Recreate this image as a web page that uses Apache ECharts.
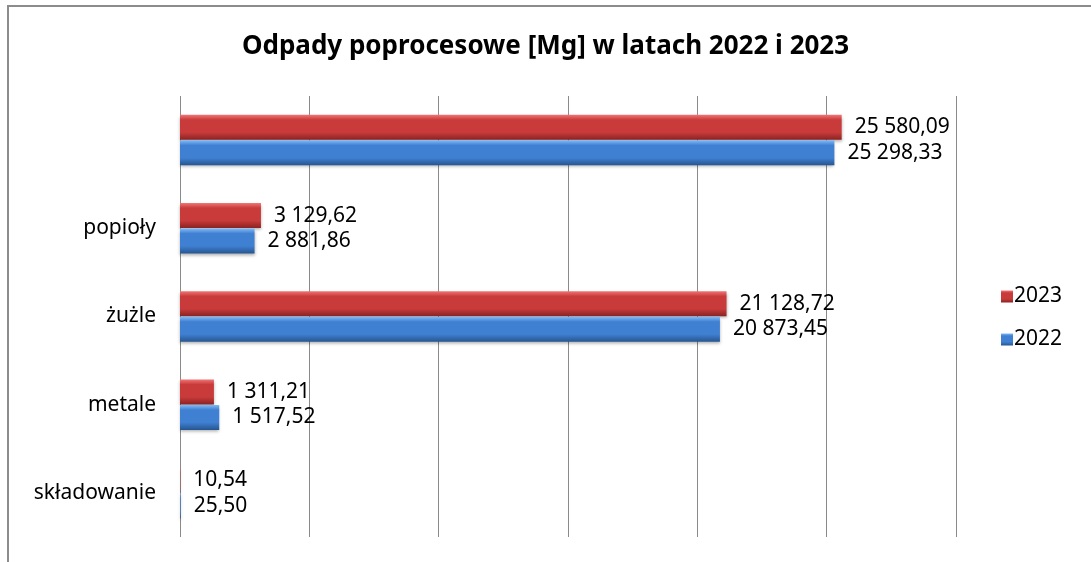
<!DOCTYPE html>
<html>
<head>
<meta charset="utf-8">
<title>Odpady poprocesowe</title>
<script src="https://cdn.jsdelivr.net/npm/echarts@6/dist/echarts.min.js"></script>
<style>
    html, body { margin: 0; padding: 0; background: #fff; }
    #myChart { width: 1091px; height: 562px; }
</style>
</head>
<body>
<div id="myChart"></div>
<script>
    // dane z wykresu (od dołu do góry)
    const categories = ['składowanie', 'metale', 'żużle', 'popioły', ''];
    const seriesNames = ['2023', '2022'];
    const values2022 = [25.50, 1517.52, 20873.45, 2881.86, 25298.33];
    const values2023 = [10.54, 1311.21, 21128.72, 3129.62, 25580.09];

    // format polski: spacja tysięcy, przecinek dziesiętny
    function fmt(v) {
        let parts = v.toFixed(2).split('.');
        parts[0] = parts[0].replace(/\B(?=(\d{3})+(?!\d))/g, ' ');
        return parts[0] + ',' + parts[1];
    }

    const font = '"Noto Sans", "DejaVu Sans", sans-serif';

    function grad(top, mid, bottom) {
        return {
            type: 'linear', x: 0, y: 0, x2: 0, y2: 1,
            colorStops: [
                {offset: 0, color: top},
                {offset: 0.2, color: mid},
                {offset: 0.7, color: mid},
                {offset: 1, color: bottom}
            ]
        };
    }
    const blue = grad('#7fbaf8', '#3f80d2', '#26558f');
    const red = grad('#f27474', '#c93b3b', '#8a2222');

    const valueLabel = {
        show: true, position: 'right', distance: 13,
        fontFamily: font, fontSize: 21, color: '#000',
        formatter: p => fmt(p.value)
    };

    let myChart = echarts.init(document.getElementById('myChart'));
    myChart.setOption({
        animation: false,
        textStyle: {fontFamily: font},
        graphic: [{
            type: 'rect',
            shape: {x: 8, y: 6, width: 1200, height: 700},
            style: {fill: 'none', stroke: '#8c8c8c', lineWidth: 2},
            silent: true
        }],
        title: {
            text: 'Odpady poprocesowe [Mg] w latach 2022 i 2023',
            left: 'center',
            top: 29,
            textStyle: {fontFamily: font, fontSize: 26, fontWeight: 'bold', color: '#000'}
        },
        legend: {
            orient: 'vertical',
            left: 996,
            top: 281,
            itemWidth: 12,
            itemHeight: 12,
            itemGap: 22,
            icon: 'rect',
            data: ['2023', '2022'],
            textStyle: {fontFamily: font, fontSize: 21, color: '#000', padding: [0, 0, 0, -4]}
        },
        grid: {left: 180, right: 135, top: 96, bottom: 25},
        xAxis: {
            type: 'value',
            min: 0,
            max: 30000,
            interval: 5000,
            axisLabel: {show: false},
            axisLine: {show: false},
            axisTick: {show: false},
            splitLine: {lineStyle: {color: '#8a8a8a', width: 1}}
        },
        yAxis: {
            type: 'category',
            data: categories,
            axisLine: {show: false},
            axisTick: {show: false},
            axisLabel: {fontFamily: font, fontSize: 21, color: '#000', margin: 24}
        },
        series: [
            {
                name: seriesNames[0],
                type: 'bar',
                data: values2023,
                barWidth: 25,
                barGap: '2%',
                itemStyle: {color: red, shadowBlur: 3, shadowColor: 'rgba(0,0,0,0.3)', shadowOffsetY: 2},
                label: valueLabel
            },
            {
                name: seriesNames[1],
                type: 'bar',
                data: values2022,
                barWidth: 25,
                barGap: '2%',
                itemStyle: {color: blue, shadowBlur: 3, shadowColor: 'rgba(0,0,0,0.3)', shadowOffsetY: 2},
                label: valueLabel
            }
        ]
    });
</script>
</body>
</html>
